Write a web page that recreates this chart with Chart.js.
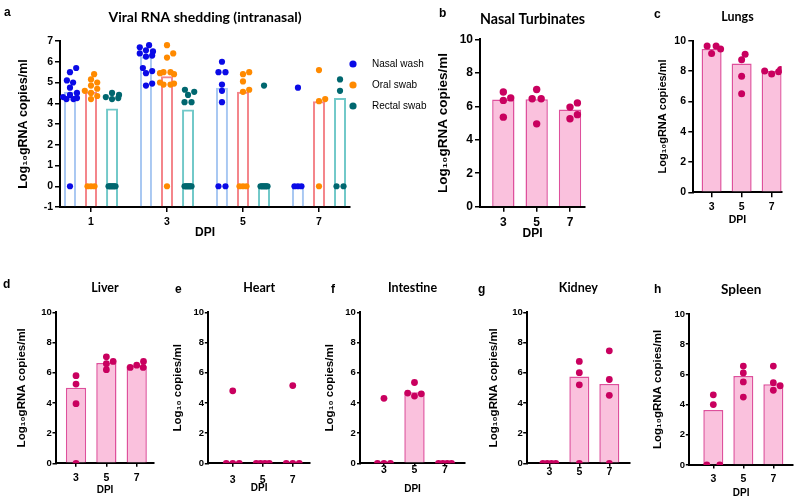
<!DOCTYPE html>
<html>
<head>
<meta charset="utf-8">
<script src="https://cdn.jsdelivr.net/npm/chart.js@4.4.1/dist/chart.umd.min.js"></script>
<style>
  body { margin: 0; background: #fff; }
  #page { position: relative; width: 800px; height: 501px; overflow: hidden; background: #fff; }
  canvas { position: absolute; }
</style>
</head>
<body>
<div id="page"></div>
<script>
// ---- panel a: shedding, three sample types per day ----
const shedDays = [1, 3, 5, 7];
const shedYTicks = [-1, 0, 1, 2, 3, 4, 5, 6, 7];
const shedNames = ["Nasal wash", "Oral swab", "Rectal swab"];
const nasalBar = [4.55, 6.25, 4.75, 0];
const oralBar = [4.55, 5.3, 4.55, 4.1];
const rectalBar = [3.75, 3.7, 0, 4.25];
const nasalDots = [
  [5.7, 5.5, 5.1, 5.0, 4.75, 4.5, 4.4, 4.3, 4.25, 4.2, 4.2, 0],
  [6.8, 6.7, 6.55, 6.5, 6.4, 6.3, 6.25, 5.7, 5.55, 5.45, 4.95, 4.85],
  [6.0, 5.5, 5.5, 4.9, 4.6, 4.05, 0, 0],
  [4.75, 0, 0, 0]
];
const oralDots = [
  [5.4, 5.15, 5.0, 4.85, 4.7, 4.6, 4.5, 4.35, 4.2, 0, 0, 0],
  [6.8, 6.4, 6.2, 5.5, 5.5, 5.45, 5.4, 5.0, 4.95, 4.9, 4.9, 0],
  [5.5, 5.4, 5.05, 4.65, 4.55, 0, 0, 0],
  [5.6, 4.2, 4.1, 0]
];
const rectalDots = [
  [4.5, 4.4, 4.3, 4.25, 4.2, 0, 0, 0, 0, 0, 0, 0],
  [4.65, 4.55, 4.4, 4.05, 4.05, 0, 0, 0, 0, 0, 0, 0],
  [4.85, 0, 0, 0, 0, 0, 0, 0],
  [5.15, 4.6, 0, 0]
];

// ---- panels b-h: organs ----
const organDays = [3, 5, 7];
const organYTicks = [0, 2, 4, 6, 8, 10];
const turbinatesBar = [6.4, 6.42, 5.8];
const turbinatesDots = [[6.5, 6.85, 6.35, 5.35], [6.45, 7.0, 6.45, 4.95], [5.25, 5.95, 6.2, 5.5]];
const lungsBar = [9.45, 8.5, 8.0];
const lungsDots = [[9.65, 9.65, 9.45, 9.15], [8.75, 9.1, 7.65, 6.5], [7.8, 8.1, 7.95, 8.0]];
const liverBar = [5.0, 6.65, 6.45];
const liverDots = [[5.8, 5.25, 3.95, 0], [7.05, 6.75, 6.6, 6.2], [6.35, 6.75, 6.35, 6.5]];
const heartBar = [0, 0, 0];
const heartDots = [[4.8, 0, 0, 0], [0, 0, 0, 0], [5.15, 0, 0, 0]];
const intestineBar = [0, 4.7, 0];
const intestineDots = [[4.3, 0, 0, 0], [4.45, 5.35, 4.65, 4.6], [0, 0, 0, 0]];
const kidneyBar = [0, 5.75, 5.25];
const kidneyDots = [[0, 0, 0, 0], [6.75, 6.0, 5.2, 0], [7.45, 5.55, 4.5, 0]];
const spleenBar = [3.65, 5.9, 5.35];
const spleenDots = [[4.65, 4.0, 0, 0], [6.55, 6.1, 5.5, 4.5], [4.95, 6.55, 5.45, 5.25]];

const sans = '"Liberation Sans", Arial, sans-serif';
const head = 'Lato, "Liberation Sans", sans-serif';
const gRNA = "Log\u2081\u2080gRNA copies/ml";
const plain = "Log\u2081\u2080 copies/ml";

// spread dots sideways like a scatter dot plot (offsets in px)
function spread(values, j) {
  const off = values.map(() => null);
  const count = {};
  values.forEach(v => { count[v] = (count[v] || 0) + 1; });
  const used = {};
  values.forEach((v, i) => {
    const n = count[v];
    if (n < 2) return;
    const k = used[v] || 0;
    used[v] = k + 1;
    off[i] = (k - (n - 1) / 2) * j.row / (n - 1);
  });
  const placed = [];
  values.forEach((v, i) => { if (off[i] !== null) placed.push([off[i], v * j.py]); });
  const rest = values.map((v, i) => i).filter(i => off[i] === null)
    .sort((a, b) => values[a] - values[b]);
  rest.forEach(i => {
    const y = values[i] * j.py;
    let x = 0;
    for (let k = 0; k < 40; k++) {
      x = (k % 2 ? 1 : -1) * Math.ceil(k / 2) * j.d / 2;
      if (placed.every(([px, py]) => Math.hypot(px - x, py - y) >= j.d * 0.85)) break;
    }
    x = Math.max(-j.lim, Math.min(j.lim, x));
    off[i] = x;
    placed.push([x, y]);
  });
  return off;
}

function addPanel(p) {
  const [bx, by, bw, bh] = p.box;
  const [aL, aR, aT, aB] = p.area;
  const cv = document.createElement("canvas");
  cv.width = bw;
  cv.height = bh;
  cv.style.left = bx + "px";
  cv.style.top = by + "px";
  document.getElementById("page").appendChild(cv);

  const pxX = (aR - aL) / (p.xr[1] - p.xr[0]);
  const pxY = (aB - aT) / (p.yr[1] - p.yr[0]);
  const n = p.series.length;
  const slot = (p.days[1] - p.days[0]) * p.catPct / n;

  const bars = p.series.map(s => {
    const ds = {
      type: "bar", label: s.label,
      data: p.days.map((d, i) => ({ x: d, y: s.bars[i] })),
      backgroundColor: s.fill, borderColor: s.edge, borderWidth: p.barLine,
      barPercentage: p.barPct, categoryPercentage: p.catPct, order: 1
    };
    if (p.floor !== undefined) ds.base = p.floor;
    return ds;
  });
  const dots = p.series.map((s, g) => ({
    type: "scatter", label: s.label,
    data: p.days.flatMap((d, i) => {
      const off = spread(s.dots[i], { d: 2 * p.r, row: p.row, lim: p.lim, py: pxY });
      return s.dots[i].map((v, k) => ({ x: d + (g - (n - 1) / 2) * slot + off[k] / pxX, y: v }));
    }),
    backgroundColor: s.dot, pointRadius: p.r, pointHoverRadius: p.r, pointBorderWidth: 0, order: 0
  }));

  const decor = {
    id: "decor",
    afterDraw(chart) {
      const c = chart.ctx;
      const area = chart.chartArea;
      c.save();
      c.fillStyle = "#000";
      c.font = "bold 12px " + sans;
      c.textBaseline = "alphabetic";
      c.fillText(p.letter[0], p.letter[1] - bx, p.letter[2] - by);
      if (p.legend) {
        c.font = "10px " + sans;
        c.textBaseline = "middle";
        p.series.forEach((s, i) => {
          const y = area.top + 23 + i * 21;
          c.fillStyle = s.dot;
          c.beginPath();
          c.arc(area.right + 3, y, p.r + 0.5, 0, Math.PI * 2);
          c.fill();
          c.fillStyle = "#000";
          c.fillText(s.label, area.right + 22, y);
        });
      }
      c.restore();
    }
  };

  const tTop = p.titleY - by - 0.6 * p.titleSize;
  const tBottom = aT - by - 1.2 * p.titleSize - tTop;

  new Chart(cv, {
    type: "scatter",
    data: { datasets: [...dots, ...bars] },
    options: {
      responsive: false,
      animation: false,
      events: [],
      layout: { padding: { left: 0, top: 0, bottom: 0, right: bx + bw - aR } },
      scales: {
        x: {
          type: "linear", min: p.xr[0], max: p.xr[1], bounds: "data", offset: false,
          afterBuildTicks: s => { s.ticks = p.days.map(v => ({ value: v })); },
          afterFit: s => { s.height = by + bh - aB; },
          grid: { drawOnChartArea: false, offset: false, tickLength: p.tl, lineWidth: 1.5, color: "#000" },
          border: { color: "#000", width: 2 },
          ticks: {
            color: "#000", maxRotation: 0,
            padding: p.xlY - aB - p.tl - 0.6 * p.xlSize,
            font: { family: sans, weight: "bold", size: p.xlSize }
          },
          title: {
            display: p.dpiY !== null, text: "DPI", color: "#000",
            font: { family: sans, weight: "bold", size: p.dpiSize },
            padding: { top: 0, bottom: p.dpiY === null ? 0 : by + bh - p.dpiY - 0.6 * p.dpiSize }
          }
        },
        y: {
          type: "linear", min: p.yr[0], max: p.yr[1], bounds: "data",
          afterBuildTicks: s => { s.ticks = p.yTicks.map(v => ({ value: v })); },
          afterFit: s => { s.width = aL - bx; },
          grid: { drawOnChartArea: false, tickLength: p.tl, lineWidth: 1.5, color: "#000" },
          border: { color: "#000", width: 2 },
          ticks: {
            color: "#000", padding: aL - p.tl - p.ylRight,
            font: { family: sans, weight: "bold", size: p.ylSize }
          },
          title: {
            display: true, text: p.yTitle, color: "#000",
            font: { family: sans, weight: "bold", size: p.yTitleSize },
            padding: { top: p.yTitleX - bx - 0.6 * p.yTitleSize, bottom: 0 }
          }
        }
      },
      plugins: {
        legend: { display: false },
        tooltip: { enabled: false },
        title: {
          display: true, text: p.title, color: "#000", fullSize: false,
          font: { family: head, weight: "bold", size: p.titleSize },
          padding: { top: tTop, bottom: tBottom }
        }
      }
    },
    plugins: [decor]
  });
}

const pinkFill = "#FAC1DD";
const pinkEdge = "#DE509C";
const pinkDot = "#C9005F";
const clear = "rgba(255,255,255,0)";

function organ(label, barVals, dotVals) {
  return [{ label: label, bars: barVals, dots: dotVals, fill: pinkFill, edge: pinkEdge, dot: pinkDot }];
}

const bottomStyle = {
  days: organDays, yTicks: organYTicks, yr: [0, 10], tl: 3.5,
  titleSize: 12.5, yTitleSize: 11.5, dpiSize: 10, xlSize: 10.5, ylSize: 9.5,
  r: 3.4, row: 13, lim: 8, barPct: 0.667, catPct: 1, barLine: 1.5
};

addPanel({
  box: [0, 0, 440, 245], area: [60, 350, 41, 207], xr: [0.184, 7.816], yr: [-1, 7],
  days: shedDays, yTicks: shedYTicks, floor: -1, tl: 5,
  title: "Viral RNA shedding (intranasal)", titleY: 17, titleSize: 14,
  yTitle: gRNA, yTitleX: 24, yTitleSize: 12.5,
  dpiY: 233, dpiSize: 12, xlY: 222, xlSize: 10.5, ylRight: 53, ylSize: 10.5,
  letter: ["a", 4, 15.5], legend: true,
  r: 3.1, row: 7, lim: 7, barPct: 0.57, catPct: 0.83, barLine: 2,
  series: [
    { label: shedNames[0], bars: nasalBar, dots: nasalDots, fill: clear, edge: "#A9C8F2", dot: "#0A0AE6" },
    { label: shedNames[1], bars: oralBar, dots: oralDots, fill: clear, edge: "#F4868B", dot: "#FF8A00" },
    { label: shedNames[2], bars: rectalBar, dots: rectalDots, fill: clear, edge: "#72C9C9", dot: "#00676F" }
  ]
});

addPanel({
  box: [430, 0, 160, 245], area: [480, 585, 39.3, 206.7], xr: [1.6, 7.9], yr: [0, 10],
  days: organDays, yTicks: organYTicks, tl: 5,
  title: "Nasal Turbinates", titleY: 19, titleSize: 14.8,
  yTitle: gRNA, yTitleX: 443, yTitleSize: 13.5,
  dpiY: 233.5, dpiSize: 12, xlY: 222.5, xlSize: 12, ylRight: 473, ylSize: 12,
  letter: ["b", 439, 17],
  r: 3.7, row: 9, lim: 9, barPct: 0.67, catPct: 1, barLine: 1.5,
  series: organ("Nasal Turbinates", turbinatesBar, turbinatesDots)
});

addPanel({
  box: [650, 0, 142, 230], area: [693.3, 781.7, 40.7, 192.3], xr: [1.78, 7.67], yr: [0, 10],
  days: organDays, yTicks: organYTicks, tl: 5,
  title: "Lungs", titleY: 17, titleSize: 12.5,
  yTitle: gRNA, yTitleX: 663, yTitleSize: 11,
  dpiY: 219.7, dpiSize: 10.5, xlY: 207.5, xlSize: 10.5, ylRight: 686, ylSize: 10.5,
  letter: ["c", 654, 17.5],
  r: 3.5, row: 9, lim: 9, barPct: 0.667, catPct: 1, barLine: 1.5,
  series: organ("Lungs", lungsBar, lungsDots)
});

addPanel(Object.assign({}, bottomStyle, {
  box: [0, 265, 165, 236], area: [56, 154, 312.3, 463.3], xr: [1.68, 8.14],
  title: "Liver", titleY: 288.3, yTitle: gRNA, yTitleX: 21.7,
  dpiY: 490.7, xlY: 478, ylRight: 51.7, letter: ["d", 3, 287.5],
  series: organ("Liver", liverBar, liverDots)
}));

addPanel(Object.assign({}, bottomStyle, {
  box: [165, 265, 150, 236], area: [208.3, 310, 312.3, 463.3], xr: [1.37, 8.15],
  title: "Heart", titleY: 288.3, yTitle: plain, yTitleX: 178,
  dpiY: 488, xlY: 480, ylRight: 204, letter: ["e", 175, 293],
  series: organ("Heart", heartBar, heartDots)
}));

addPanel(Object.assign({}, bottomStyle, {
  box: [318, 265, 152, 236], area: [360, 465, 312.3, 463.3], xr: [1.43, 8.31],
  title: "Intestine", titleY: 288, yTitle: plain, yTitleX: 330,
  dpiY: 489.5, xlY: 470, ylRight: 355.7, letter: ["f", 331, 293], tl: 3,
  series: organ("Intestine", intestineBar, intestineDots)
}));

addPanel(Object.assign({}, bottomStyle, {
  box: [475, 265, 160, 236], area: [526.7, 630, 312.3, 463.3], xr: [1.49, 8.38],
  title: "Kidney", titleY: 288, yTitle: gRNA, yTitleX: 494.3,
  dpiY: null, xlY: 472.5, ylRight: 522.7, letter: ["g", 478, 293],
  series: organ("Kidney", kidneyBar, kidneyDots)
}));

addPanel(Object.assign({}, bottomStyle, {
  box: [640, 265, 158, 236], area: [689.3, 793, 314, 465], xr: [1.4, 8.31],
  title: "Spleen", titleY: 290, titleSize: 13.5, yTitle: gRNA, yTitleX: 658,
  dpiY: 493, xlY: 479, ylRight: 685, letter: ["h", 654, 293],
  series: organ("Spleen", spleenBar, spleenDots)
}));
</script>
</body>
</html>
